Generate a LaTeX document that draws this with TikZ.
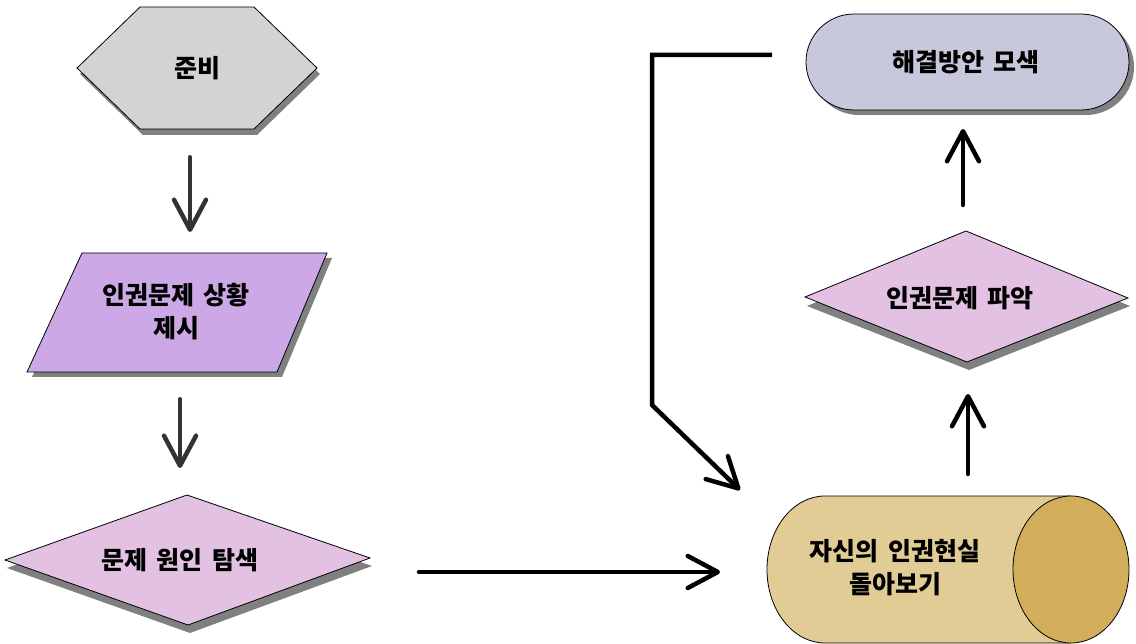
\documentclass[tikz,border=0pt]{standalone}
\usepackage{fontspec}
\setmainfont{Noto Sans CJK KR}[WordSpace=1.6]
\usetikzlibrary{arrows.meta}
\definecolor{hexfill}{HTML}{D3D3D3}
\definecolor{parafill}{HTML}{CCA9E6}
\definecolor{diafill}{HTML}{E2C1E2}
\definecolor{cylbody}{HTML}{E2CC96}
\definecolor{cylend}{HTML}{D2AD5A}
\definecolor{termfill}{HTML}{C8C8DC}
\definecolor{shadowgray}{HTML}{808080}
\definecolor{darkarrow}{HTML}{333333}
\tikzset{
  shapeline/.style={draw=black, line width=0.8pt},
  shadowfill/.style={fill=shadowgray, draw=none},
  label/.style={font=\fontsize{25}{33}\selectfont\bfseries, align=center, inner sep=0pt},
  flowarrow/.style={line width=4.5pt, line cap=round, line join=round,
    -{Straight Barb[length=30pt,width=32pt,line width=4.5pt,round]}},
}
\begin{document}
\begin{tikzpicture}[x=1pt,y=-1pt]
\useasboundingbox (0,0) rectangle (1136,644);
% --- hexagon (preparation)
\fill[shadowfill] (80,74) -- (143,13) -- (257,13) -- (320,74) -- (257,135) -- (143,135) -- cycle;
\filldraw[shapeline, fill=hexfill] (77,68) -- (140,7) -- (254,7) -- (317,68) -- (254,129) -- (140,129) -- cycle;
\node[label] (junbi) at (197,68) {준비};
% --- parallelogram
\fill[shadowfill] (87,258) -- (332,258) -- (282,377) -- (32,377) -- cycle;
\filldraw[shapeline, fill=parafill] (82,253) -- (327,253) -- (277,372) -- (27,372) -- cycle;
\node[label] (sanghwang) at (176,312) {인권문제 상황\\제시};
% --- diamond (cause)
\fill[shadowfill] (7,568) -- (189,503) -- (372,566) -- (190,633) -- cycle;
\filldraw[shapeline, fill=diafill] (5,560) -- (187,495) -- (370,558) -- (188,625) -- cycle;
\node[label] (wonin) at (180,560) {문제 원인 탐색};
% --- cylinder
\filldraw[shapeline, fill=cylbody] (1071,496) -- (825,496)
  arc[start angle=-90, end angle=-270, x radius=58, y radius=73.5]
  -- (1071,643);
\filldraw[shapeline, fill=cylend] (1071,569.5) ellipse[x radius=58, y radius=73.5];
\node[label] (hyeonsil) at (895,568) {자신의 인권현실\\돌아보기};
% --- diamond (identify)
\fill[shadowfill] (807,306) -- (968,239) -- (1130,306) -- (969,370) -- cycle;
\filldraw[shapeline, fill=diafill] (805,297) -- (966,231) -- (1128,298) -- (967,362) -- cycle;
\node[label] (paak) at (960,298) {인권문제 파악};
% --- terminal
\fill[shadowfill, rounded corners=48pt] (811,19) rectangle (1134,115);
\filldraw[shapeline, fill=termfill, rounded corners=48pt] (806,14) rectangle (1129,110);
\node[label] (haegyeol) at (966,62) {해결방안 모색};
% --- connector end points
\coordinate (a1s) at (190,157);
\coordinate (a1e) at (190,232);
\coordinate (a2s) at (180,399);
\coordinate (a2e) at (180,468);
\coordinate (a3s) at (419,572);
\coordinate (a3e) at (720,572);
\coordinate (a4s) at (968,474);
\coordinate (a4e) at (968,394);
\coordinate (a5s) at (963,205);
\coordinate (a5e) at (963,129);
\coordinate (a6s) at (772,55);
\coordinate (a6c1) at (652,55);
\coordinate (a6c2) at (652,405);
\coordinate (a6e) at (740,490);
% --- connectors
\draw[flowarrow, darkarrow, line width=4pt] (a1s) -- (a1e);
\draw[flowarrow, darkarrow, line width=4pt] (a2s) -- (a2e);
\draw[flowarrow, black] (a3s) -- (a3e);
\draw[flowarrow, black] (a4s) -- (a4e);
\draw[flowarrow, black] (a5s) -- (a5e);
\draw[flowarrow, black, line cap=butt, line join=miter] (a6s) -- (a6c1) -- (a6c2) -- (a6e);
\end{tikzpicture}
\end{document}
